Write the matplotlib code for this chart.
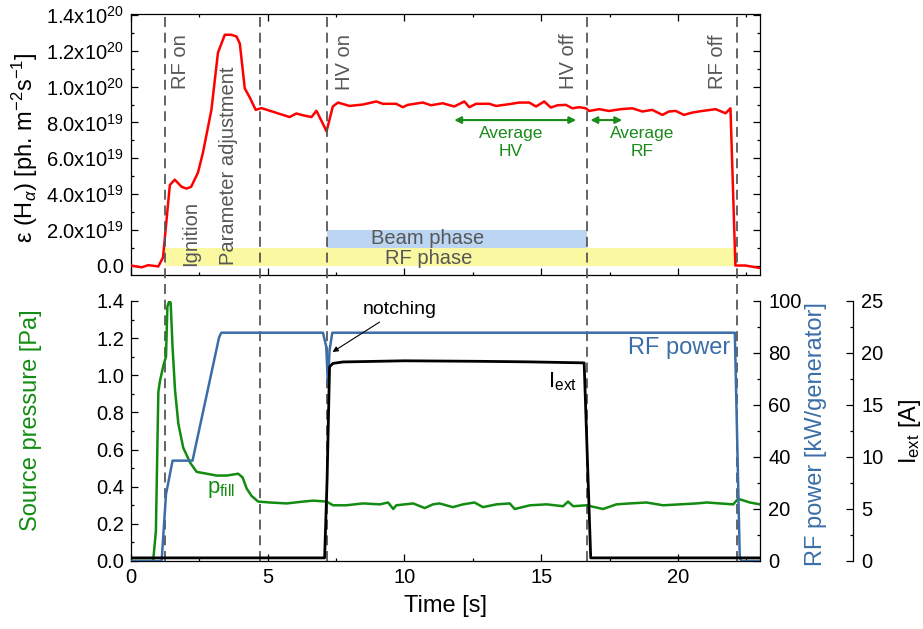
import matplotlib
matplotlib.use('Agg')
import matplotlib.pyplot as plt
from matplotlib.ticker import MultipleLocator

plt.rcParams['font.family'] = 'Liberation Sans'
plt.rcParams['mathtext.fontset'] = 'custom'
plt.rcParams['mathtext.rm'] = 'Liberation Sans'
plt.rcParams['mathtext.it'] = 'Liberation Sans:italic'
plt.rcParams['mathtext.bf'] = 'Liberation Sans:bold'
plt.rcParams['axes.linewidth'] = 0.9

# event times [s]
t_rf_on = 1.24
t_param = 4.71
t_hv_on = 7.15
t_hv_off = 16.68
t_rf_off = 22.17
events = [t_rf_on, t_param, t_hv_on, t_hv_off, t_rf_off]

# H-alpha emissivity [1e19 ph. m^-2 s^-1]
t_em = [0, 0.39, 0.63, 1.0, 1.17, 1.42, 1.6, 1.85, 2.03, 2.2,
        2.45, 2.63, 2.94, 3.18, 3.43, 3.67, 3.86, 3.98, 4.16, 4.34,
        4.56, 4.77, 5.18, 5.8, 6.05, 6.28, 6.6, 6.78, 6.96, 7.15,
        7.38, 7.57, 7.99, 8.48, 8.97, 9.21, 9.70, 9.94, 10.12, 10.67,
        10.97, 11.4, 11.82, 12.19, 12.37, 12.62, 13.1, 13.35, 13.83, 14.2,
        14.56, 14.81, 15.11, 15.35, 15.6, 15.9, 16.14, 16.39, 16.63, 16.75,
        17.12, 17.48, 17.91, 18.33, 18.7, 19.06, 19.43, 19.67, 19.92, 20.22,
        20.52, 20.89, 21.38, 21.74, 21.92, 22.1, 22.47, 22.96]
em = [0, -0.1, 0.02, -0.05, 0.45, 4.5, 4.8, 4.4, 4.3, 4.4,
      5.2, 6.3, 8.7, 11.9, 12.9, 12.9, 12.8, 12.4, 9.9, 9.4,
      8.7, 8.8, 8.6, 8.3, 8.5, 8.4, 8.3, 8.65, 8.1, 7.5,
      8.89, 9.11, 8.92, 9.0, 9.17, 9.04, 9.04, 8.85, 8.98, 9.11,
      8.96, 9.07, 8.89, 9.17, 8.85, 9.04, 9.04, 8.92, 9.02, 9.11,
      9.11, 8.89, 9.17, 8.83, 8.96, 8.98, 8.79, 8.85, 8.79, 8.64,
      8.74, 8.64, 8.74, 8.79, 8.61, 8.7, 8.42, 8.61, 8.64, 8.42,
      8.55, 8.64, 8.74, 8.51, 8.79, 0, 0, -0.13]

# source filling pressure [Pa]
t_p = [0, 0.81, 0.91, 1.0, 1.06, 1.18, 1.28, 1.33, 1.40, 1.45,
       1.52, 1.61, 1.73, 1.91, 2.16, 2.40, 2.77, 3.13, 3.5, 3.92,
       4.08, 4.23, 4.41, 4.65, 5.08, 5.69, 6.3, 6.66, 7.15, 7.39,
       7.87, 8.48, 9.1, 9.4, 9.59, 9.7, 10.32, 10.74, 11.04, 11.28,
       11.77, 12.14, 12.56, 12.87, 13.36, 13.85, 14.03, 14.59, 15.2, 15.8,
       15.98, 16.17, 16.65, 17.26, 17.75, 18.24, 18.85, 19.46, 20.07, 20.68,
       21.05, 21.53, 22.02, 22.2, 22.63, 23.0]
p_fill = [0, 0, 0.16, 0.91, 0.97, 1.05, 1.10, 1.37, 1.40, 1.39,
          1.15, 0.92, 0.74, 0.61, 0.53, 0.48, 0.47, 0.46, 0.46, 0.47,
          0.45, 0.39, 0.35, 0.32, 0.315, 0.31, 0.32, 0.325, 0.32, 0.30,
          0.30, 0.31, 0.305, 0.315, 0.28, 0.30, 0.31, 0.285, 0.305, 0.31,
          0.29, 0.305, 0.315, 0.29, 0.305, 0.31, 0.28, 0.30, 0.305, 0.295,
          0.32, 0.295, 0.30, 0.28, 0.305, 0.31, 0.315, 0.30, 0.305, 0.31,
          0.315, 0.31, 0.305, 0.335, 0.315, 0.305]

# RF power per generator [kW]
t_rf = [0, 1.12, 1.28, 1.52, 2.25, 3.22, 3.3, 7.02, 7.14, 7.2,
        7.26, 7.36, 22.08, 22.26, 22.32, 23.0]
rf_power = [0, 0, 25.7, 38.6, 38.6, 86, 87.8, 87.8, 82.4, 68,
            81, 87.8, 87.8, 1.3, 0, 0]

# extracted current [A]
t_i = [0, 7.08, 7.17, 7.26, 7.38, 7.75, 10.0, 12.74, 14.5, 16.57, 16.81, 23.0]
i_ext = [0.3, 0.3, 7.8, 18.66, 19.0, 19.14, 19.25, 19.2, 19.15, 19.05, 0.3, 0.3]

em_ticks = [0, 2e19, 4e19, 6e19, 8e19, 1e20, 1.2e20, 1.4e20]
em_ticklabels = ['0.0', '2.0x10$^{19}$', '4.0x10$^{19}$', '6.0x10$^{19}$',
                 '8.0x10$^{19}$', '1.0x10$^{20}$', '1.2x10$^{20}$', '1.4x10$^{20}$']

red = '#ff0000'
green = '#118c11'
blue = '#3b6ea8'
grey = '#575757'
arrow_green = '#1a8a1a'

W, H = 923, 629
fig = plt.figure(figsize=(W / 100, H / 100), dpi=100)
ax1 = fig.add_axes([131 / W, 1 - 275 / H, 629 / W, 261 / H])
ax2 = fig.add_axes([131 / W, 1 - 561 / H, 629 / W, 260 / H])
ax2.patch.set_visible(False)

# ---- top: emissivity ----
ax1.fill_between([t_rf_on, t_rf_off], 0, 1e19, color='#fbf8a2', lw=0)
ax1.fill_between([t_hv_on, t_hv_off], 1e19, 2e19, color='#bcd5f2', lw=0)
ax1.plot(t_em, [v * 1e19 for v in em], color=red, lw=1.8, zorder=3)
ax1.set_xlim(0, 23)
ax1.set_ylim(-5.3e18, 1.406e20)
ax1.set_yticks(em_ticks)
ax1.set_yticklabels(em_ticklabels)
ax1.xaxis.set_major_locator(MultipleLocator(5))
ax1.xaxis.set_minor_locator(MultipleLocator(2.5))
ax1.yaxis.set_minor_locator(MultipleLocator(1e19))
ax1.tick_params(which='both', direction='in', top=True, right=True,
                labelbottom=False, labelsize=14.5, pad=5)
ax1.tick_params(which='major', length=5, width=0.9)
ax1.tick_params(which='minor', length=2.5, width=0.9)
ax1.set_ylabel('ε (H$_\\alpha$) [ph. m$^{-2}$s$^{-1}$]', fontsize=17)
ax1.yaxis.set_label_coords(-0.145, 0.488)

# dashed event markers run through both panels
for t in events:
    ax1.axvline(t, ymin=-(561 - 275) / 261, ymax=1, clip_on=False,
                color=grey, lw=1.3, dashes=(5.5, 3.2), zorder=5)

ax1.text(10.85, 1.5e19, 'Beam phase', ha='center', va='center',
         fontsize=14.5, color=grey)
ax1.text(10.9, 0.4e19, 'RF phase', ha='center', va='center',
         fontsize=14.5, color=grey)

vlabels = [(1.82, 1.14e20, 'RF on'), (2.17, 0.179e20, 'Ignition'),
           (3.58, 0.556e20, 'Parameter adjustment'), (7.81, 1.14e20, 'HV on'),
           (16.0, 1.14e20, 'HV off'), (21.46, 1.14e20, 'RF off')]
for x, y, s in vlabels:
    ax1.text(x, y, s, rotation=90, ha='center', va='center',
             fontsize=14.5, color=grey)

ax1.annotate('', xy=(11.82, 8.13e19), xytext=(16.28, 8.13e19),
             arrowprops=dict(arrowstyle='<|-|>', color=arrow_green, lw=1.5,
                             mutation_scale=10, shrinkA=0, shrinkB=0))
ax1.annotate('', xy=(16.8, 8.13e19), xytext=(17.96, 8.13e19),
             arrowprops=dict(arrowstyle='<|-|>', color=arrow_green, lw=1.5,
                             mutation_scale=10, shrinkA=0, shrinkB=0))
ax1.text(13.9, 6.85e19, 'Average\nHV', ha='center', va='center',
         fontsize=12.5, color=arrow_green, linespacing=1.25)
ax1.text(18.69, 6.85e19, 'Average\nRF', ha='center', va='center',
         fontsize=12.5, color=arrow_green, linespacing=1.25)

# ---- bottom: pressure, RF power, extraction current ----
ax_rf = ax2.twinx()
ax_i = ax2.twinx()
ax_i.spines['right'].set_position(('axes', (853 - 131) / 629))

ax2.plot(t_p, p_fill, color=green, lw=1.8)
ax_rf.plot(t_rf, rf_power, color=blue, lw=1.8)
ax_i.plot(t_i, i_ext, color='black', lw=2)

ax2.set_xlim(0, 23)
ax2.set_ylim(0, 1.4)
ax_rf.set_ylim(0, 100)
ax_i.set_ylim(0, 25)

for a in (ax2, ax_rf, ax_i):
    a.spines['top'].set_visible(False)
ax2.spines['right'].set_visible(False)
for a in (ax_rf, ax_i):
    a.spines['left'].set_visible(False)
    a.spines['bottom'].set_visible(False)

ax2.xaxis.set_major_locator(MultipleLocator(5))
ax2.xaxis.set_minor_locator(MultipleLocator(2.5))
ax2.yaxis.set_major_locator(MultipleLocator(0.2))
ax2.yaxis.set_minor_locator(MultipleLocator(0.1))
ax2.yaxis.set_major_formatter(plt.FormatStrFormatter('%.1f'))
ax_rf.yaxis.set_major_locator(MultipleLocator(20))
ax_rf.yaxis.set_minor_locator(MultipleLocator(10))
ax_i.yaxis.set_major_locator(MultipleLocator(5))
ax_i.yaxis.set_minor_locator(MultipleLocator(2.5))

ax2.tick_params(which='both', direction='in', top=False, right=False,
                labelsize=14.5, pad=5)
for a in (ax_rf, ax_i):
    a.tick_params(which='both', direction='in', labelsize=14.5, pad=6)
for a in (ax2, ax_rf, ax_i):
    a.tick_params(which='major', length=5, width=0.9)
    a.tick_params(which='minor', length=2.5, width=0.9)

ax2.set_xlabel('Time [s]', fontsize=17, labelpad=6)
ax2.set_ylabel('Source pressure [Pa]', fontsize=17, color=green)
ax2.yaxis.set_label_coords(-0.1415, 0.54)
ax_rf.set_ylabel('RF power [kW/generator]', fontsize=17, color=blue)
ax_rf.yaxis.set_label_coords(1.0715, 0.49)
ax_i.set_ylabel(r'I$_{\rm ext}$ [A]', fontsize=17)
ax_i.yaxis.set_label_coords(1.218, 0.5)

ax2.text(3.3, 0.385, r'p$_{\rm fill}$', color=green, fontsize=16,
         ha='center', va='center')
ax_rf.text(20.04, 81.9, 'RF power', color=blue, fontsize=17,
           ha='center', va='center')
ax_i.text(15.77, 17.2, r'I$_{\rm ext}$', color='black', fontsize=16,
          ha='center', va='center')
ax_i.annotate('notching', xy=(7.37, 20.1), xytext=(8.47, 24.2),
              ha='left', va='center', fontsize=14,
              arrowprops=dict(arrowstyle='-|>', color='black', lw=0.8,
                              mutation_scale=8, shrinkA=2, shrinkB=0))

fig.savefig('out.png', dpi=100)
